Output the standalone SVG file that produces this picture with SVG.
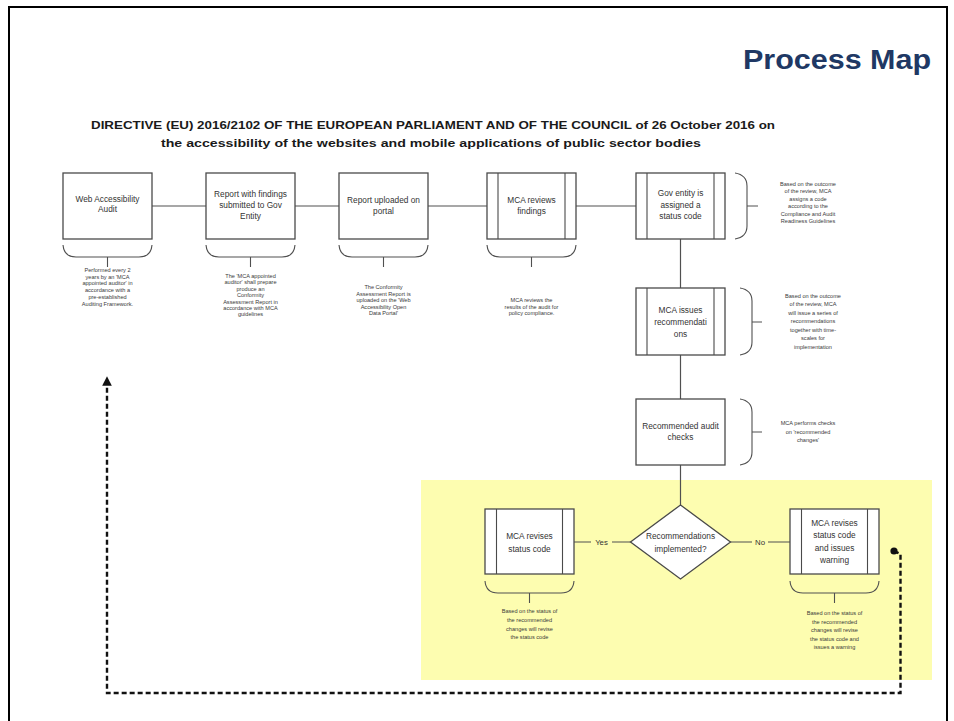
<svg xmlns="http://www.w3.org/2000/svg" width="954" height="721" viewBox="0 0 954 721">
<defs>
<style>
.box{fill:#fff;stroke:#4a4a4a;stroke-width:1.3}
.in{stroke:#4a4a4a;stroke-width:1.1;fill:none}
.ln{stroke:#505050;stroke-width:1.2;fill:none}
.br{stroke:#505050;stroke-width:1.1;fill:none}
.t{font-family:"Liberation Sans",Arial,sans-serif;font-size:8.3px;fill:#333;text-anchor:middle}
.a{font-family:"Liberation Sans",Arial,sans-serif;font-size:5.6px;fill:#3a3a3a;text-anchor:middle}
.h{font-family:"Liberation Sans",Arial,sans-serif;font-weight:bold;font-size:11px;fill:#1a1a1a}
.dash{stroke:#111;stroke-width:2.4;fill:none;stroke-dasharray:5 3}
</style>
<marker id="arr" viewBox="0 0 10 10" refX="5" refY="5" markerWidth="4" markerHeight="4" orient="auto-start-reverse" markerUnits="strokeWidth">
<path d="M0,0 L10,5 L0,10 z" fill="#111"/>
</marker>
</defs>
<rect x="0" y="0" width="954" height="721" fill="#fff"/>
<path d="M9,721 L9,7 L947,7 L947,721" fill="none" stroke="#000" stroke-width="2"/>
<text x="931" y="69" text-anchor="end" font-family="'Liberation Sans',Arial,sans-serif" font-weight="bold" font-size="27" fill="#203864" textLength="188" lengthAdjust="spacingAndGlyphs">Process Map</text>
<text class="h" x="91" y="129" textLength="684" lengthAdjust="spacingAndGlyphs">DIRECTIVE (EU) 2016/2102 OF THE EUROPEAN PARLIAMENT AND OF THE COUNCIL of 26 October 2016 on</text>
<text class="h" x="161" y="147" textLength="540" lengthAdjust="spacingAndGlyphs">the accessibility of the websites and mobile applications of public sector bodies</text>

<rect x="421" y="480" width="511" height="200" fill="#fdfdb0"/>

<g id="connectors">
<path class="ln" d="M152,206 H206 M295,206 H339 M428,206 H487 M576,206 H636"/>
<path class="ln" d="M680.5,239 V288 M680.5,355 V399 M680.5,465 V505"/>
<path class="ln" d="M574,542 H591 M612,542 H631 M730,542 H752 M768,542 H790"/>
<text class="t" x="601.5" y="545" style="font-size:7.8px">Yes</text>
<text class="t" x="760" y="545" style="font-size:7.8px">No</text>
<circle cx="894" cy="551" r="3.6" fill="#111"/>
<path class="dash" d="M894,551 L900.5,554 V693 H107 V381" marker-end="url(#arr)"/>
</g>

<g id="n1">
<rect class="box" x="63" y="173" width="89" height="66"/>
<text class="t" x="107.5" y="202">Web Accessibility</text>
<text class="t" x="107.5" y="212">Audit</text>
<path class="br" d="M63,245 Q64,257 76,257 H139 Q151,257 152,245 M107.5,257 V267"/>
<text class="a"><tspan x="107.5" y="272">Performed every 2</tspan><tspan x="107.5" y="278.7">years by an 'MCA</tspan><tspan x="107.5" y="285.4">appointed auditor' in</tspan><tspan x="107.5" y="292.1">accordance with a</tspan><tspan x="107.5" y="298.8">pre-established</tspan><tspan x="107.5" y="305.5">Auditing Framework.</tspan></text>
</g>

<g id="n2">
<rect class="box" x="206" y="173" width="89" height="66"/>
<text class="t" x="250.5" y="197">Report with findings</text>
<text class="t" x="250.5" y="208">submitted to Gov</text>
<text class="t" x="250.5" y="219">Entity</text>
<path class="br" d="M206,245 Q207,257 219,257 H282 Q294,257 295,245 M250.5,257 V267"/>
<text class="a"><tspan x="250.5" y="278">The 'MCA appointed</tspan><tspan x="250.5" y="284.4">auditor' shall prepare</tspan><tspan x="250.5" y="290.8">produce an</tspan><tspan x="250.5" y="297.2">Conformity</tspan><tspan x="250.5" y="303.6">Assessment Report in</tspan><tspan x="250.5" y="310">accordance with MCA</tspan><tspan x="250.5" y="316.4">guidelines</tspan></text>
</g>

<g id="n3">
<rect class="box" x="339" y="173" width="89" height="66"/>
<text class="t" x="383.5" y="203">Report uploaded on</text>
<text class="t" x="383.5" y="214">portal</text>
<path class="br" d="M339,245 Q340,257 352,257 H415 Q427,257 428,245 M383.5,257 V267"/>
<text class="a"><tspan x="383.5" y="289">The Conformity</tspan><tspan x="383.5" y="295.6">Assessment Report is</tspan><tspan x="383.5" y="302.2">uploaded on the 'Web</tspan><tspan x="383.5" y="308.8">Accessibility Open</tspan><tspan x="383.5" y="315.4">Data Portal'</tspan></text>
</g>

<g id="n4">
<rect class="box" x="487" y="173" width="89" height="66"/>
<path class="in" d="M498,173 V239 M565,173 V239"/>
<text class="t" x="531.5" y="203">MCA reviews</text>
<text class="t" x="531.5" y="214">findings</text>
<path class="br" d="M487,245 Q488,257 500,257 H563 Q575,257 576,245 M531.5,257 V267"/>
<text class="a"><tspan x="531.5" y="302">MCA reviews the</tspan><tspan x="531.5" y="308.6">results of the audit for</tspan><tspan x="531.5" y="315.2">policy compliance.</tspan></text>
</g>

<g id="n5">
<rect class="box" x="636" y="173" width="89" height="66"/>
<path class="in" d="M647,173 V239 M714,173 V239"/>
<text class="t" x="680.5" y="196">Gov entity is</text>
<text class="t" x="680.5" y="207.5">assigned a</text>
<text class="t" x="680.5" y="219">status code</text>
<path class="br" d="M735,173 Q747,175 747,186 V226 Q747,237 735,239 M747,206 H758"/>
<text class="a"><tspan x="808" y="186">Based on the outcome</tspan><tspan x="808" y="193.4">of the review, MCA</tspan><tspan x="808" y="200.8">assigns a code</tspan><tspan x="808" y="208.2">according to the</tspan><tspan x="808" y="215.6">Compliance and Audit</tspan><tspan x="808" y="223">Readiness Guidelines</tspan></text>
</g>

<g id="n6">
<rect class="box" x="636" y="288" width="89" height="67"/>
<path class="in" d="M647,288 V355 M714,288 V355"/>
<text class="t" x="680.5" y="313">MCA issues</text>
<text class="t" x="680.5" y="325">recommendati</text>
<text class="t" x="680.5" y="337">ons</text>
<path class="br" d="M740,288 Q752,290 752,301 V342 Q752,353 740,355 M752,322 H762"/>
<text class="a"><tspan x="813" y="297.5">Based on the outcome</tspan><tspan x="813" y="306">of the review, MCA</tspan><tspan x="813" y="314.5">will issue a series of</tspan><tspan x="813" y="323">recommendations</tspan><tspan x="813" y="331.5">together with time-</tspan><tspan x="813" y="340">scales for</tspan><tspan x="813" y="348.5">implementation</tspan></text>
</g>

<g id="n7">
<rect class="box" x="636" y="399" width="89" height="66"/>
<text class="t" x="680.5" y="429">Recommended audit</text>
<text class="t" x="680.5" y="440">checks</text>
<path class="br" d="M740,399 Q752,401 752,412 V452 Q752,463 740,465 M752,432 H762"/>
<text class="a"><tspan x="808" y="425">MCA performs checks</tspan><tspan x="808" y="433.5">on 'recommended</tspan><tspan x="808" y="442">changes'</tspan></text>
</g>

<g id="n8">
<path class="box" d="M680.5,505 L730.5,542 L680.5,579 L630.5,542 Z"/>
<text class="t" x="680.5" y="539">Recommendations</text>
<text class="t" x="680.5" y="552">implemented?</text>
</g>

<g id="n9">
<rect class="box" x="485" y="509" width="89" height="65"/>
<path class="in" d="M496.5,509 V574 M562.5,509 V574"/>
<text class="t" x="529.5" y="539">MCA revises</text>
<text class="t" x="529.5" y="551.5">status code</text>
<path class="br" d="M485,581 Q486,593 498,593 H561 Q573,593 574,581 M529.5,593 V603"/>
<text class="a"><tspan x="529.5" y="613">Based on the status of</tspan><tspan x="529.5" y="621.8">the recommended</tspan><tspan x="529.5" y="630.6">changes will revise</tspan><tspan x="529.5" y="639.4">the status code</tspan></text>
</g>

<g id="n10">
<rect class="box" x="790" y="509" width="89" height="65"/>
<path class="in" d="M801.5,509 V574 M867.5,509 V574"/>
<text class="t" x="834.5" y="526">MCA revises</text>
<text class="t" x="834.5" y="538">status code</text>
<text class="t" x="834.5" y="551">and issues</text>
<text class="t" x="834.5" y="563">warning</text>
<path class="br" d="M790,581 Q791,593 803,593 H866 Q878,593 879,581 M834.5,593 V603"/>
<text class="a"><tspan x="834.5" y="615">Based on the status of</tspan><tspan x="834.5" y="623.5">the recommended</tspan><tspan x="834.5" y="632">changes will revise</tspan><tspan x="834.5" y="640.5">the status code and</tspan><tspan x="834.5" y="649">issues a warning</tspan></text>
</g>
</svg>
